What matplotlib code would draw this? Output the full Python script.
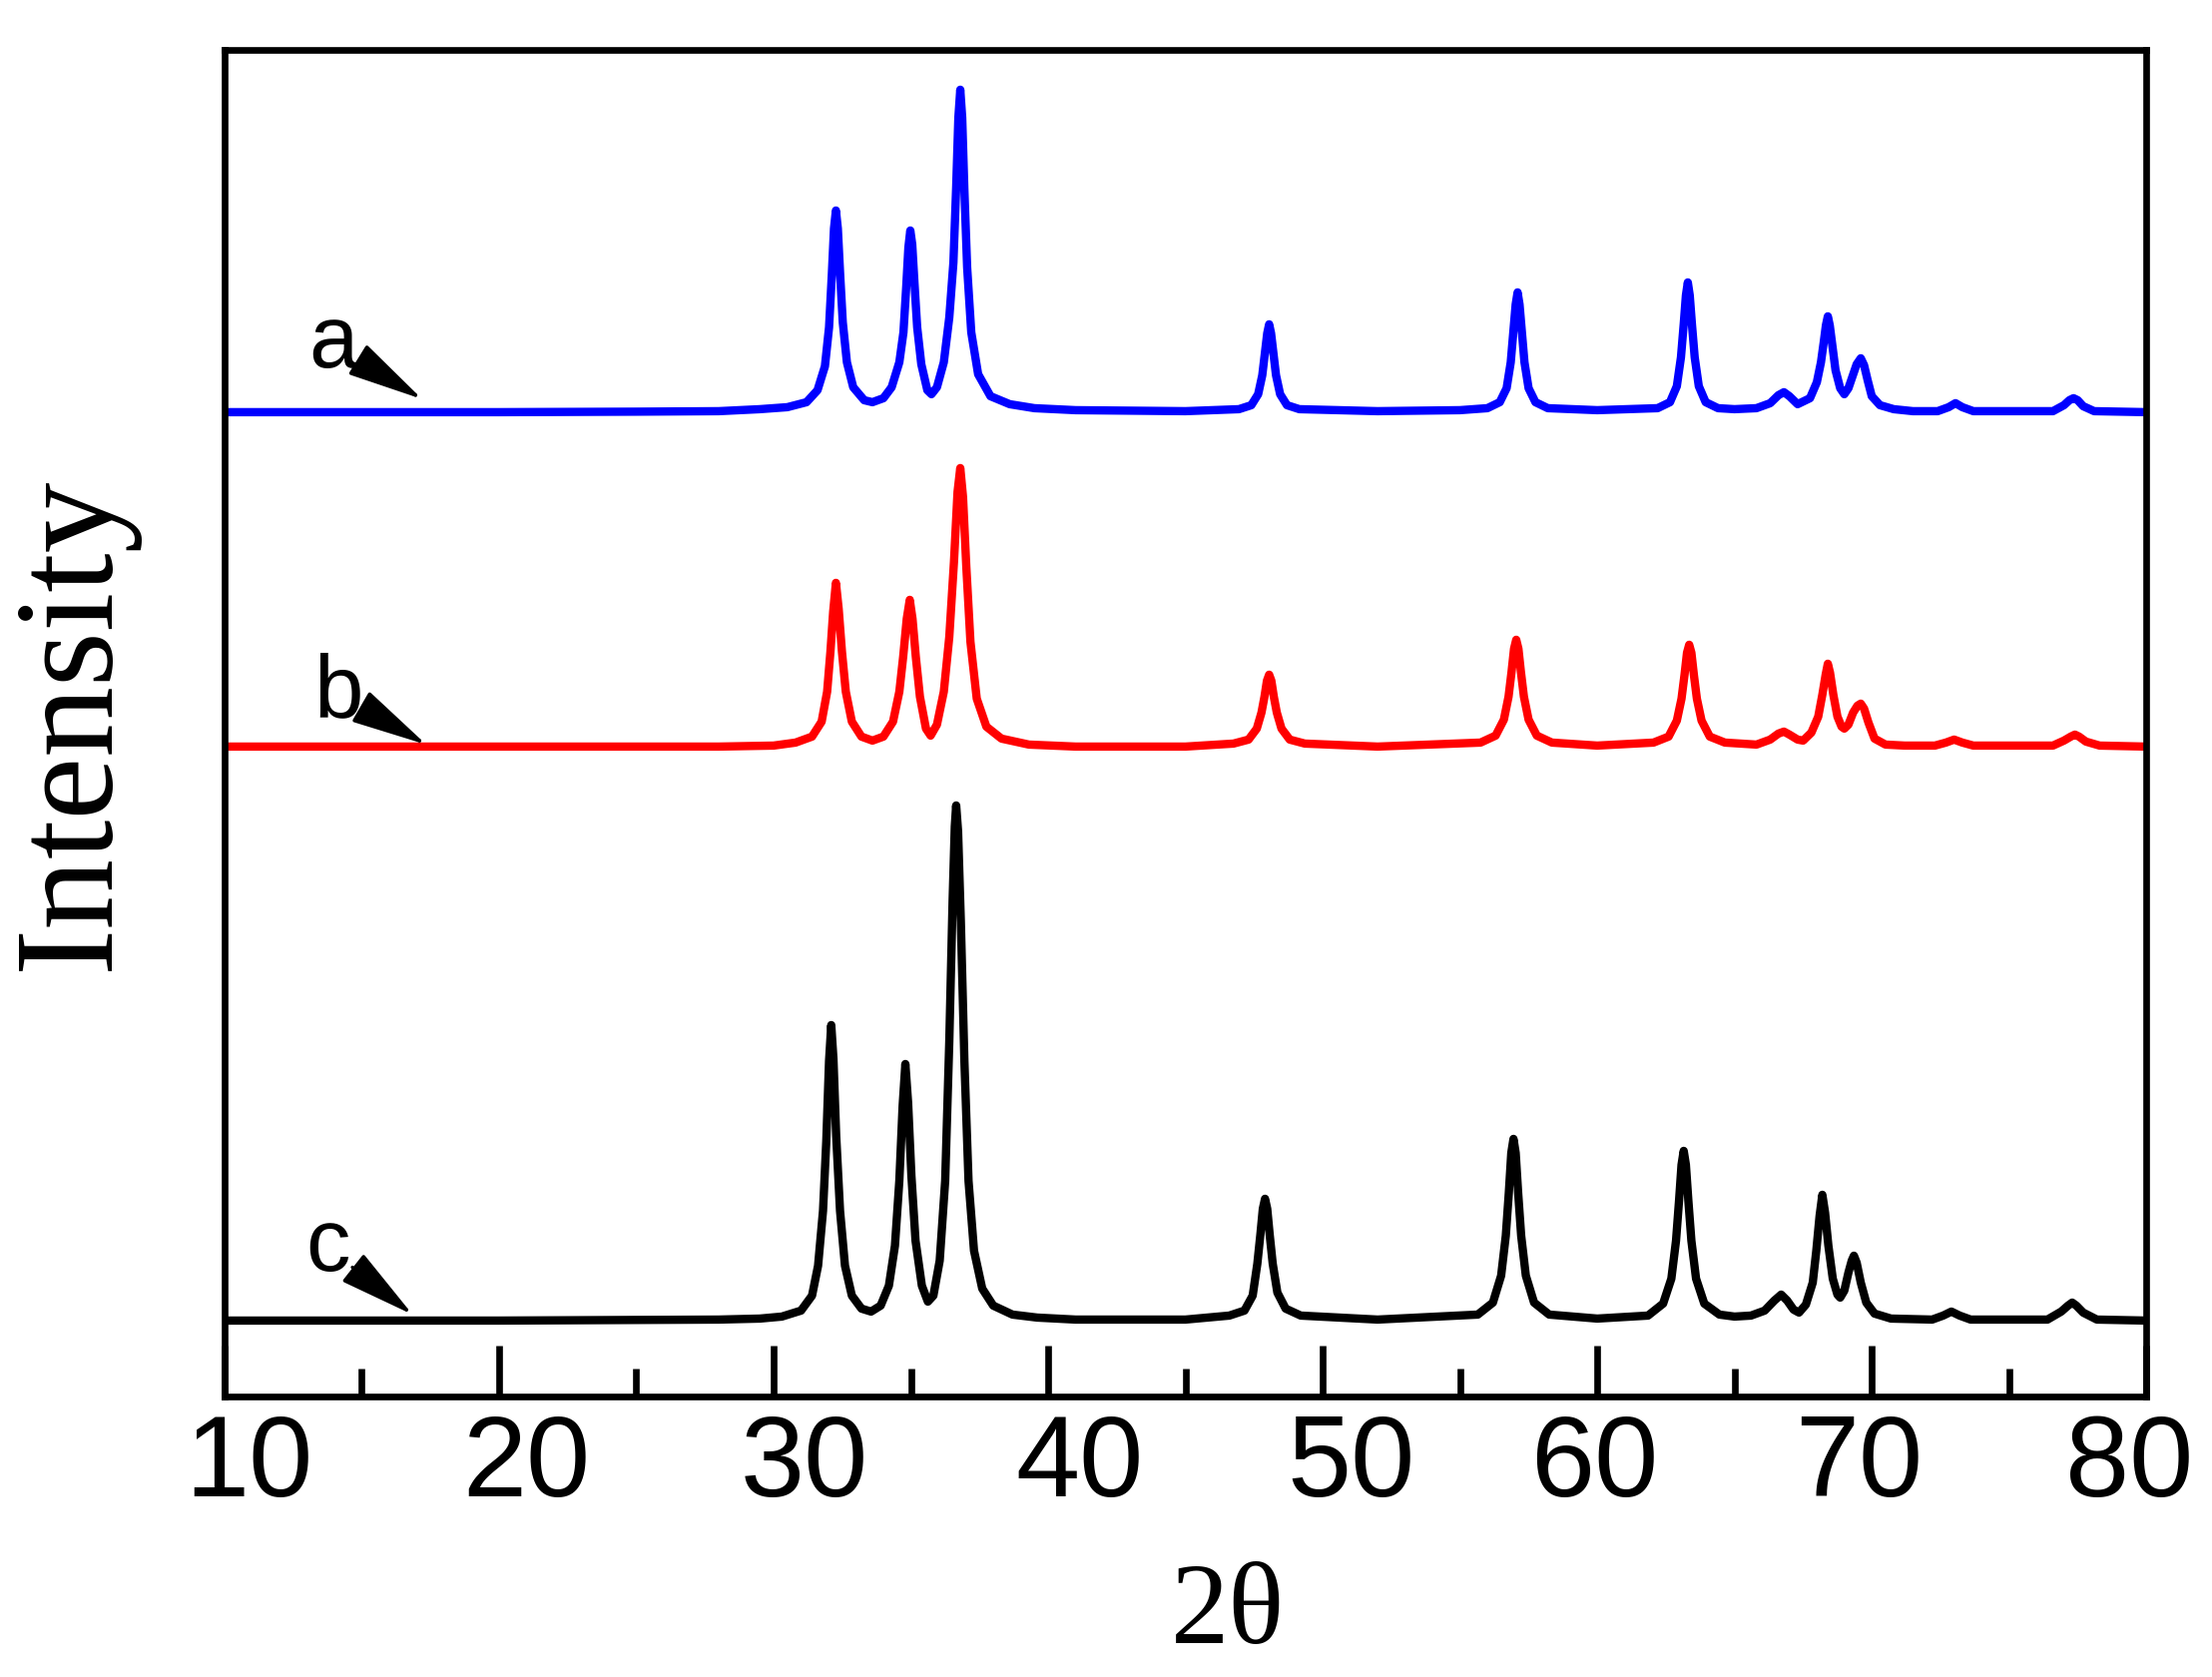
import numpy as np
import matplotlib
matplotlib.use("Agg")
import matplotlib.pyplot as plt
from matplotlib.ticker import MultipleLocator
from matplotlib.transforms import ScaledTranslation

# 三条XRD曲线，(2theta, 相对各自基线的强度)，读图估计
a_trace = [
    (10.0, 0), (20.0, 0), (25.0, 0.5), (28.0, 1), (29.5, 3), (30.5, 5), (31.2, 10), (31.6, 22),
    (31.87, 46), (32.02, 85), (32.12, 137), (32.2, 184), (32.27, 202), (32.34, 184), (32.42, 140),
    (32.52, 90), (32.67, 50), (32.9, 25), (33.3, 12), (33.6, 10), (34.0, 14), (34.3, 25),
    (34.58, 50), (34.73, 80), (34.83, 125), (34.91, 165), (34.98, 182), (35.05, 168), (35.13, 130),
    (35.23, 85), (35.38, 48), (35.6, 22), (35.75, 18), (35.95, 25), (36.2, 50), (36.4, 95),
    (36.55, 150), (36.65, 225), (36.73, 295), (36.8, 323), (36.87, 295), (36.95, 222), (37.05, 145),
    (37.2, 80), (37.45, 38), (37.9, 16), (38.6, 8), (39.5, 4), (41.0, 2), (45.0, 1),
    (46.95, 3), (47.4, 7), (47.65, 18), (47.8, 37), (47.9, 60), (47.98, 79), (48.05, 88),
    (48.12, 79), (48.2, 60), (48.3, 37), (48.45, 18), (48.7, 7), (49.15, 3), (52.0, 1),
    (55.0, 2), (56.0, 4), (56.45, 10), (56.7, 24), (56.85, 50), (56.95, 82), (57.03, 108),
    (57.1, 120), (57.17, 108), (57.25, 82), (57.35, 50), (57.5, 24), (57.75, 10), (58.2, 4),
    (60.0, 2), (62.2, 4), (62.65, 10), (62.9, 26), (63.05, 55), (63.15, 88), (63.23, 117),
    (63.3, 130), (63.37, 117), (63.45, 88), (63.55, 55), (63.7, 26), (63.95, 10), (64.4, 4),
    (65.0, 3), (65.8, 4), (66.3, 9), (66.6, 17), (66.8, 20), (67.0, 16), (67.3, 8),
    (67.75, 14), (68.0, 30), (68.15, 50), (68.25, 70), (68.33, 87), (68.4, 96), (68.47, 87),
    (68.56, 68), (68.68, 42), (68.85, 24), (69.0, 18), (69.15, 24), (69.3, 36), (69.45, 48),
    (69.6, 54), (69.72, 47), (69.85, 32), (70.0, 16), (70.3, 7), (70.8, 3), (71.5, 1),
    (72.4, 1), (72.8, 5), (73.05, 9), (73.3, 5), (73.7, 1), (76.6, 1), (77.0, 7),
    (77.2, 12), (77.35, 14), (77.5, 12), (77.7, 6), (78.1, 1), (80.0, 0),
]

b_trace = [
    (10.0, 0), (20.0, 0), (28.0, 0), (30.0, 1), (30.8, 4), (31.4, 10), (31.75, 25), (31.95, 55),
    (32.07, 95), (32.17, 135), (32.27, 164), (32.37, 138), (32.49, 95), (32.63, 55), (32.85, 25),
    (33.2, 10), (33.6, 6), (34.0, 10), (34.35, 25), (34.58, 55), (34.72, 90), (34.85, 128),
    (34.96, 147), (35.06, 128), (35.18, 90), (35.33, 50), (35.55, 18), (35.72, 11), (35.95, 22),
    (36.2, 55), (36.4, 110), (36.57, 185), (36.7, 255), (36.8, 279), (36.9, 250), (37.02, 180),
    (37.17, 105), (37.4, 48), (37.75, 20), (38.3, 8), (39.3, 2), (41.0, 0), (45.0, 0),
    (46.75, 3), (47.3, 7), (47.6, 18), (47.77, 34), (47.88, 50), (47.97, 66), (48.05, 72),
    (48.13, 66), (48.22, 50), (48.33, 34), (48.5, 18), (48.8, 7), (49.35, 3), (52.0, 0),
    (55.75, 4), (56.3, 11), (56.6, 27), (56.77, 50), (56.88, 75), (56.97, 98), (57.05, 107),
    (57.13, 98), (57.22, 75), (57.33, 50), (57.5, 27), (57.8, 11), (58.35, 4), (60.0, 1),
    (62.05, 4), (62.6, 10), (62.9, 26), (63.07, 48), (63.18, 72), (63.27, 94), (63.35, 102),
    (63.43, 94), (63.52, 72), (63.63, 48), (63.8, 26), (64.1, 10), (64.65, 4), (65.8, 2),
    (66.3, 7), (66.6, 13), (66.8, 15), (67.0, 12), (67.3, 7), (67.5, 6), (67.8, 14),
    (68.05, 30), (68.2, 52), (68.32, 72), (68.4, 83), (68.48, 74), (68.6, 52), (68.75, 30),
    (68.9, 20), (69.0, 18), (69.15, 22), (69.32, 34), (69.48, 41), (69.6, 43), (69.72, 38),
    (69.88, 24), (70.1, 8), (70.5, 2), (71.2, 1), (72.3, 1), (72.7, 4), (73.0, 7),
    (73.3, 4), (73.7, 1), (76.6, 1), (77.0, 6), (77.25, 10), (77.4, 12), (77.55, 10),
    (77.8, 5), (78.3, 1), (80.0, 0),
]

c_trace = [
    (10.0, 0), (20.0, 0), (28.0, 1), (29.5, 2), (30.3, 4), (31.0, 10), (31.4, 25), (31.62, 55),
    (31.8, 110), (31.92, 180), (32.02, 260), (32.1, 296), (32.18, 262), (32.28, 185), (32.42, 110),
    (32.6, 55), (32.85, 25), (33.2, 12), (33.55, 9), (33.9, 15), (34.2, 35), (34.42, 75),
    (34.58, 140), (34.7, 215), (34.8, 257), (34.9, 218), (35.02, 145), (35.17, 80), (35.4, 35),
    (35.62, 19), (35.82, 25), (36.05, 60), (36.25, 140), (36.4, 280), (36.52, 420), (36.6, 495),
    (36.65, 516), (36.72, 490), (36.82, 400), (36.95, 260), (37.1, 140), (37.3, 70), (37.6, 32),
    (38.0, 15), (38.7, 6), (39.6, 3), (41.0, 1), (45.0, 1),
    (46.6, 5), (47.15, 10), (47.45, 25), (47.62, 57), (47.73, 86), (47.82, 112), (47.9, 122),
    (47.98, 112), (48.07, 86), (48.18, 57), (48.35, 28), (48.65, 12), (49.2, 5), (52.0, 1),
    (55.65, 6), (56.2, 18), (56.5, 45), (56.67, 85), (56.78, 128), (56.87, 168), (56.95, 182),
    (57.03, 168), (57.12, 128), (57.23, 85), (57.4, 45), (57.7, 18), (58.25, 6), (60.0, 2),
    (61.85, 5), (62.4, 17), (62.7, 42), (62.87, 80), (62.98, 120), (63.07, 156), (63.15, 170),
    (63.23, 156), (63.32, 120), (63.43, 80), (63.6, 42), (63.9, 17), (64.45, 6), (65.0, 4),
    (65.6, 5), (66.1, 10), (66.45, 20), (66.7, 26), (66.92, 20), (67.15, 11), (67.35, 8),
    (67.6, 16), (67.85, 38), (67.98, 70), (68.1, 105), (68.2, 126), (68.3, 108), (68.42, 75),
    (68.58, 42), (68.75, 26), (68.85, 23), (69.0, 30), (69.15, 48), (69.27, 60), (69.35, 65),
    (69.45, 58), (69.6, 38), (69.8, 18), (70.1, 7), (70.7, 2), (72.2, 1), (72.6, 5),
    (72.9, 9), (73.2, 5), (73.6, 1), (76.4, 1), (76.9, 9), (77.15, 15), (77.3, 18),
    (77.45, 15), (77.7, 8), (78.2, 1), (80.0, 0),
]

# 各曲线的竖直偏移
offsets = [986, 651, 76]
colors = ['#0000ff', '#ff0000', '#000000']
labels = ['a', 'b', 'c']
label_xy = [(13.95, 1054), (14.15, 704), (13.75, 149)]
arrow_tip = [(17.2, 999), (17.35, 653), (16.85, 82)]

xticks = [10, 20, 30, 40, 50, 60, 70, 80]
# 原图刻度文字略有错位（像素）
xtick_shift = [24, 27, 31, 31, 28, -3, -13, -17]

fig = plt.figure(figsize=(22.16, 16.8), dpi=100)
ax = fig.add_axes([0.1015, 0.1673, 0.8688, 0.8030])

for trace, off, col in zip([a_trace, b_trace, c_trace], offsets, colors):
    x = np.array([p[0] for p in trace])
    y = np.array([p[1] for p in trace])
    ax.plot(x, y + off, color=col, lw=6.0, solid_joinstyle='round')

# 字母标注和箭头
for lab, txy, tip in zip(labels, label_xy, arrow_tip):
    ax.annotate(lab, xy=tip, xytext=txy, ha='center', va='center',
                fontsize=64, family='Liberation Sans',
                arrowprops=dict(arrowstyle='-|>,head_length=2.4,head_width=0.55',
                                mutation_scale=20, color='black', lw=2.5,
                                shrinkA=0, shrinkB=0))

ax.set_xlim(10, 80)
ax.set_ylim(0, 1349)
ax.set_xticks(xticks)
ax.xaxis.set_minor_locator(MultipleLocator(5))
ax.set_yticks([])
ax.tick_params(axis='x', which='major', direction='in', length=37, width=4.8, pad=12,
               labelsize=83)
ax.tick_params(axis='x', which='minor', direction='in', length=20, width=4.8)
for lbl, dx in zip(ax.get_xticklabels(), xtick_shift):
    lbl.set_family('Liberation Sans')
    lbl.set_transform(lbl.get_transform() + ScaledTranslation(dx / 100, 0, fig.dpi_scale_trans))
for sp in ax.spines.values():
    sp.set_linewidth(4.8)

ax.set_xlabel('2θ', fontsize=84, family='Liberation Serif')
ax.xaxis.set_label_coords(0.522, -0.123)
ax.set_ylabel('Intensity', fontsize=102, family='Liberation Serif')
ax.yaxis.set_label_coords(-0.045, 0.5)

fig.savefig('out.png', dpi=100)
